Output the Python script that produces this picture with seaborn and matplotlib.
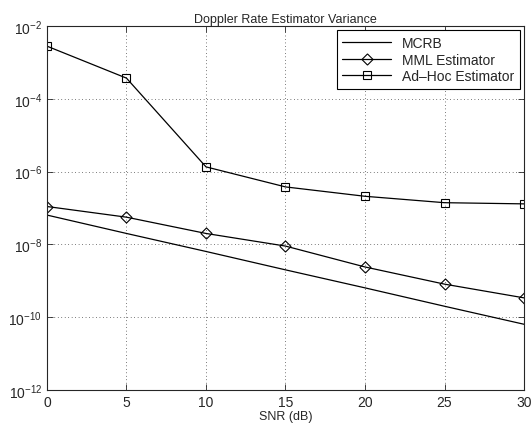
import numpy as np
import pandas as pd
import seaborn as sns
import matplotlib.pyplot as plt

# SNR grid and variance values
snr = [0, 5, 10, 15, 20, 25, 30]
mcrb = [6.4e-8, 2.0e-8, 6.4e-9, 2.0e-9, 6.4e-10, 2.0e-10, 6.4e-11]
mml = [1.1e-7, 5.6e-8, 2.0e-8, 9.0e-9, 2.4e-9, 8.1e-10, 3.4e-10]
adhoc = [2.8e-3, 3.7e-4, 1.35e-6, 3.8e-7, 2.1e-7, 1.4e-7, 1.3e-7]

sns.set_style('ticks')
plt.rcParams['font.family'] = ['Liberation Sans', 'DejaVu Sans']
plt.rcParams['mathtext.fontset'] = 'custom'
plt.rcParams['mathtext.rm'] = 'Liberation Sans'

fig = plt.figure(figsize=(5.32, 4.31), dpi=100)
ax = fig.add_axes([0.0883, 0.0928, 0.8967, 0.8445])

common = dict(color='black', linewidth=0.9, markerfacecolor='none',
              markeredgecolor='black', markeredgewidth=0.8, ax=ax)
sns.lineplot(x=snr, y=mcrb, label='MCRB', **common)
sns.lineplot(x=snr, y=mml, label='MML Estimator', marker=(4, 0, 0), markersize=8, **common)
sns.lineplot(x=snr, y=adhoc, label='Ad\u2013Hoc Estimator', marker='s', markersize=5.5, **common)

ax.set_yscale('log')
ax.set_xlim(0, 30)
ax.set_ylim(1e-12, 1e-2)
ax.set_xticks(snr)
ax.set_yticks([1e-12, 1e-10, 1e-8, 1e-6, 1e-4, 1e-2])
ax.minorticks_off()
ax.tick_params(direction='in', top=True, right=True, labelsize=10, length=4, width=0.6)
ax.grid(True, linestyle=(0, (1, 4)), color='black', linewidth=0.5)
for s in ax.spines.values():
    s.set_linewidth(0.8)
    s.set_visible(True)

ax.set_xlabel('SNR (dB)', fontsize=9, labelpad=1)
ax.set_ylabel('')
ax.set_title('Doppler Rate Estimator Variance', fontsize=9, pad=3)

leg = ax.legend(loc='upper right', fontsize=10, frameon=True,
                fancybox=False, edgecolor='black', framealpha=1,
                handlelength=3.5, borderaxespad=0.3, labelspacing=0.2)
leg.get_frame().set_linewidth(0.8)

fig.savefig('out.png', dpi=100)
